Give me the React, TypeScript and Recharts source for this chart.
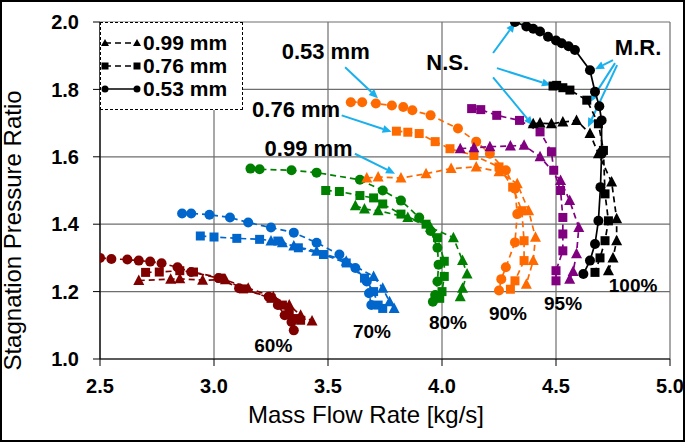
import { ScatterChart, Scatter, XAxis, YAxis, CartesianGrid, ReferenceLine, ReferenceDot, Legend } from "recharts";

// [mass flow kg/s, stagnation pressure ratio]
const s60_053 = [[2.50,1.300],[2.55,1.297],[2.62,1.295],[2.67,1.292],[2.72,1.289],[2.77,1.284],[2.84,1.272],[2.90,1.258],[3.02,1.240],[3.11,1.210],[3.24,1.185],[3.28,1.160],[3.31,1.130],[3.34,1.110],[3.35,1.085]];
const s60_076 = [[2.70,1.257],[2.76,1.258],[2.85,1.262],[2.91,1.258],[3.03,1.240],[3.13,1.208],[3.25,1.180],[3.30,1.160],[3.33,1.135],[3.36,1.120],[3.38,1.115]];
const s60_099 = [[2.67,1.233],[2.81,1.237],[2.85,1.238],[2.95,1.234],[3.05,1.235],[3.15,1.210],[3.26,1.185],[3.33,1.160],[3.38,1.130],[3.43,1.113]];

const s70_053 = [[2.86,1.432],[2.90,1.432],[2.98,1.428],[3.07,1.420],[3.15,1.405],[3.25,1.390],[3.35,1.375],[3.45,1.345],[3.55,1.310],[3.62,1.270],[3.67,1.230],[3.68,1.195],[3.69,1.160]];
const s70_076 = [[2.94,1.365],[3.00,1.362],[3.10,1.358],[3.20,1.355],[3.28,1.350],[3.37,1.330],[3.48,1.310],[3.58,1.285],[3.66,1.240],[3.70,1.200],[3.72,1.160],[3.74,1.150]];
const s70_099 = [[3.25,1.350],[3.30,1.345],[3.35,1.335],[3.45,1.320],[3.58,1.290],[3.70,1.245],[3.74,1.210],[3.77,1.170],[3.79,1.150]];

const s80_053 = [[3.16,1.565],[3.20,1.563],[3.34,1.560],[3.45,1.553],[3.64,1.532],[3.74,1.500],[3.82,1.470],[3.90,1.420],[3.95,1.380],[3.98,1.330],[3.985,1.280],[3.98,1.230],[3.97,1.190],[3.96,1.170]];
const s80_076 = [[3.49,1.500],[3.55,1.497],[3.64,1.485],[3.70,1.478],[3.74,1.460],[3.82,1.430],[3.93,1.400],[3.98,1.360],[4.01,1.290],[4.01,1.245],[4.00,1.200],[3.99,1.180]];
const s80_099 = [[3.62,1.455],[3.66,1.445],[3.72,1.440],[3.85,1.420],[3.95,1.390],[4.05,1.360],[4.09,1.292],[4.11,1.252],[4.09,1.210],[4.08,1.185]];

const s90_053 = [[3.60,1.762],[3.65,1.762],[3.71,1.758],[3.78,1.752],[3.83,1.748],[3.87,1.738],[3.95,1.723],[4.07,1.684],[4.15,1.645],[4.21,1.609],[4.28,1.560],[4.32,1.505],[4.33,1.430],[4.32,1.346],[4.28,1.272],[4.26,1.237],[4.25,1.203]];
const s90_076 = [[3.80,1.676],[3.85,1.673],[3.90,1.669],[3.97,1.645],[4.035,1.624],[4.14,1.604],[4.25,1.570],[4.31,1.510],[4.35,1.440],[4.36,1.351],[4.36,1.292],[4.32,1.232],[4.30,1.207]];
const s90_099 = [[3.67,1.537],[3.72,1.540],[3.82,1.537],[3.93,1.550],[4.04,1.565],[4.15,1.570],[4.25,1.556],[4.33,1.520],[4.38,1.440],[4.41,1.361],[4.40,1.292],[4.37,1.222]];

const s95_076 = [[4.13,1.743],[4.17,1.740],[4.24,1.723],[4.34,1.708],[4.43,1.674],[4.48,1.615],[4.49,1.560],[4.52,1.500],[4.53,1.420],[4.53,1.371],[4.53,1.321],[4.50,1.262],[4.50,1.232]];
const s95_099 = [[4.08,1.624],[4.14,1.627],[4.21,1.630],[4.30,1.632],[4.36,1.634],[4.43,1.600],[4.52,1.530],[4.56,1.470],[4.60,1.390],[4.59,1.312],[4.575,1.260],[4.56,1.237]];

const s100_053 = [[4.32,2.000],[4.37,1.987],[4.40,1.980],[4.43,1.972],[4.465,1.956],[4.50,1.945],[4.525,1.937],[4.555,1.928],[4.583,1.917],[4.649,1.857],[4.671,1.793],[4.69,1.750],[4.70,1.708],[4.70,1.609],[4.695,1.510],[4.686,1.410],[4.671,1.341],[4.649,1.292],[4.62,1.252]];
const s100_076 = [[4.487,1.810],[4.503,1.812],[4.53,1.805],[4.561,1.798],[4.635,1.768],[4.686,1.698],[4.708,1.619],[4.715,1.490],[4.73,1.410],[4.715,1.351],[4.693,1.300],[4.671,1.257]];
const s100_099 = [[4.40,1.698],[4.43,1.700],[4.48,1.698],[4.53,1.703],[4.59,1.708],[4.649,1.669],[4.686,1.609],[4.744,1.525],[4.766,1.416],[4.766,1.351],[4.75,1.300],[4.73,1.262]];

const xTicks = [2.5, 3.0, 3.5, 4.0, 4.5, 5.0];
const yTicks = [1.0, 1.2, 1.4, 1.6, 1.8, 2.0];

const speedLabels = [
  { text: "60%", x: 3.26, y: 1.039 },
  { text: "70%", x: 3.693, y: 1.083 },
  { text: "80%", x: 4.026, y: 1.107 },
  { text: "90%", x: 4.289, y: 1.134 },
  { text: "95%", x: 4.531, y: 1.164 },
  { text: "100%", x: 4.838, y: 1.217 },
];

const noteLabels = [
  { text: "0.53 mm", x: 3.49, y: 1.911 },
  { text: "0.76 mm", x: 3.36, y: 1.74 },
  { text: "0.99 mm", x: 3.415, y: 1.625 },
  { text: "N.S.", x: 4.025, y: 1.881 },
  { text: "M.R.", x: 4.86, y: 1.923 },
];

// arrows: [x1, y1, x2, y2]
const arrows = [
  [3.575, 1.866, 3.719, 1.774],
  [3.56, 1.723, 3.779, 1.674],
  [3.618, 1.609, 3.794, 1.55],
  [4.224, 1.908, 4.32, 1.997],
  [4.241, 1.863, 4.478, 1.8125],
  [4.224, 1.836, 4.399, 1.693],
  [4.75, 1.887, 4.671, 1.86],
  [4.759, 1.878, 4.649, 1.762],
  [4.768, 1.872, 4.64, 1.688],
];

const FONT = "Arial, 'Liberation Sans', sans-serif";
const ARROW = "#1ab0ec";

const toPts = (arr: number[][]) => arr.map(([x, y]) => ({ x, y }));

const series = [
  { data: s60_053, color: "#800000", shape: "circle", solid: false },
  { data: s60_076, color: "#800000", shape: "square", solid: false },
  { data: s60_099, color: "#800000", shape: "triangle", solid: false },
  { data: s70_053, color: "#0066cc", shape: "circle", solid: false },
  { data: s70_076, color: "#0066cc", shape: "square", solid: false },
  { data: s70_099, color: "#0066cc", shape: "triangle", solid: false },
  { data: s80_053, color: "#008000", shape: "circle", solid: false },
  { data: s80_076, color: "#008000", shape: "square", solid: false },
  { data: s80_099, color: "#008000", shape: "triangle", solid: false },
  { data: s90_053, color: "#ff6a00", shape: "circle", solid: false },
  { data: s90_076, color: "#ff6a00", shape: "square", solid: false },
  { data: s90_099, color: "#ff6a00", shape: "triangle", solid: false },
  { data: s95_076, color: "#800080", shape: "square", solid: false },
  { data: s95_099, color: "#800080", shape: "triangle", solid: false },
  { data: s100_053, color: "#000000", shape: "circle", solid: true },
  { data: s100_076, color: "#000000", shape: "square", solid: false },
  { data: s100_099, color: "#000000", shape: "triangle", solid: false },
];

const makeMarker = (kind: string, color: string) => (props: any) => {
  const { cx, cy } = props;
  if (kind === "circle") return <circle cx={cx} cy={cy} r={5} fill={color} />;
  if (kind === "square") return <rect x={cx - 4.5} y={cy - 4.5} width={9} height={9} fill={color} />;
  return <polygon points={`${cx},${cy - 6} ${cx + 5.5},${cy + 4.5} ${cx - 5.5},${cy + 4.5}`} fill={color} />;
};

const Arrow = (props: any) => {
  const { x1, y1, x2, y2 } = props;
  const ang = Math.atan2(y2 - y1, x2 - x1);
  const L = 9, W = 4;
  const bx = x2 - L * Math.cos(ang), by = y2 - L * Math.sin(ang);
  const px = -Math.sin(ang) * W, py = Math.cos(ang) * W;
  return (
    <g>
      <line x1={x1} y1={y1} x2={bx} y2={by} stroke={ARROW} strokeWidth={2} />
      <polygon points={`${x2},${y2} ${bx + px},${by + py} ${bx - px},${by - py}`} fill={ARROW} />
    </g>
  );
};

const LegendMarker = ({ shape, solid }: { shape: string; solid: boolean }) => (
  <svg width={40} height={12} style={{ marginRight: 2 }}>
    <line x1={4} y1={6} x2={36} y2={6} stroke="#000" strokeWidth={1.5} strokeDasharray={solid ? undefined : "6 4"} />
    {[4, 36].map((cx) =>
      shape === "circle" ? (
        <circle key={cx} cx={cx} cy={6} r={3.5} fill="#000" />
      ) : shape === "square" ? (
        <rect key={cx} x={cx - 3.5} y={2.5} width={7} height={7} fill="#000" />
      ) : (
        <polygon key={cx} points={`${cx},2 ${cx + 4},9 ${cx - 4},9`} fill="#000" />
      )
    )}
  </svg>
);

const legendItems = [
  { text: "0.99 mm", shape: "triangle", solid: false },
  { text: "0.76 mm", shape: "square", solid: false },
  { text: "0.53 mm", shape: "circle", solid: true },
];

const renderLegend = () => (
  <div
    style={{
      border: "1.5px dashed #000",
      background: "#fff",
      padding: "8px 0 6px 0",
      boxSizing: "border-box",
      width: 143,
      height: 88,
      fontFamily: FONT,
      whiteSpace: "nowrap",
      overflow: "hidden",
    }}
  >
    {legendItems.map((it) => (
      <div key={it.text} style={{ display: "flex", alignItems: "center", height: 23, fontWeight: "bold", fontSize: 21 }}>
        <LegendMarker shape={it.shape} solid={it.solid} />
        <span>{it.text}</span>
      </div>
    ))}
  </div>
);

export default function App() {
  return (
    <div
      style={{
        position: "absolute",
        left: 0,
        top: 0,
        width: 685,
        height: 442,
        background: "#fff",
        border: "2px solid #000",
        boxSizing: "border-box",
      }}
    >
      <div style={{ position: "absolute", left: -2, top: -2 }}>
        <ScatterChart width={685} height={442} margin={{ top: 22, right: 15, bottom: 0, left: 0 }}>
          <CartesianGrid stroke="#6e6e6e" strokeWidth={1.2} />
          <XAxis
            type="number"
            dataKey="x"
            domain={[2.5, 5.0]}
            ticks={xTicks}
            allowDataOverflow
            height={83}
            tickSize={7}
            tickMargin={13}
            tickFormatter={(v: number) => v.toFixed(1)}
            tick={{ fill: "#000", fontSize: 20, fontWeight: "bold", fontFamily: FONT }}
            axisLine={{ stroke: "#000", strokeWidth: 1.2 }}
            tickLine={{ stroke: "#000" }}
            label={{ value: "Mass Flow Rate [kg/s]", position: "insideBottom", offset: 19, dx: -19, style: { fill: "#000", fontSize: 24, fontFamily: FONT } }}
          />
          <YAxis
            type="number"
            dataKey="y"
            domain={[1.0, 2.0]}
            ticks={yTicks}
            allowDataOverflow
            width={100}
            tickSize={7}
            tickMargin={14}
            tickFormatter={(v: number) => v.toFixed(1)}
            tick={{ fill: "#000", fontSize: 20, fontWeight: "bold", fontFamily: FONT }}
            axisLine={{ stroke: "#000", strokeWidth: 1.2 }}
            tickLine={{ stroke: "#000" }}
            label={{ value: "Stagnation Pressure Ratio", angle: -90, position: "insideLeft", offset: 12, dy: 40, style: { textAnchor: "middle", fill: "#000", fontSize: 24, fontFamily: FONT } }}
          />
          <Legend
            layout="vertical"
            align="center"
            verticalAlign="middle"
            content={renderLegend}
            wrapperStyle={{ left: 100, top: 22, width: 143, height: 88 }}
          />
          {series.map((s, i) => (
            <Scatter
              key={i}
              data={toPts(s.data)}
              fill={s.color}
              shape={makeMarker(s.shape, s.color)}
              line={{ stroke: s.color, strokeWidth: 1.7, strokeDasharray: s.solid ? undefined : "6 4" }}
              isAnimationActive={false}
              legendType="none"
            />
          ))}
          {arrows.map(([x1, y1, x2, y2], i) => (
            <ReferenceLine key={`a${i}`} segment={[{ x: x1, y: y1 }, { x: x2, y: y2 }]} shape={Arrow} ifOverflow="visible" />
          ))}
          {speedLabels.map((l) => (
            <ReferenceDot
              key={l.text}
              x={l.x}
              y={l.y}
              ifOverflow="visible"
              shape={(p: any) => (
                <text x={p.cx} y={p.cy} textAnchor="middle" dominantBaseline="central" fontFamily={FONT} fontWeight="bold" fontSize={19} fill="#000">
                  {l.text}
                </text>
              )}
            />
          ))}
          {noteLabels.map((l) => (
            <ReferenceDot
              key={l.text}
              x={l.x}
              y={l.y}
              ifOverflow="visible"
              shape={(p: any) => (
                <text x={p.cx} y={p.cy} textAnchor="middle" dominantBaseline="central" fontFamily={FONT} fontWeight="bold" fontSize={22} fill="#000">
                  {l.text}
                </text>
              )}
            />
          ))}
        </ScatterChart>
      </div>
    </div>
  );
}
